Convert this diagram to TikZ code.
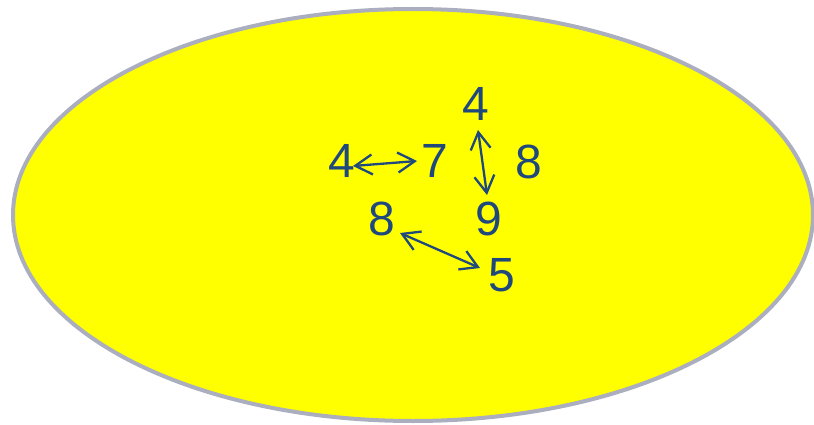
\documentclass[tikz,border=0pt]{standalone}
\usepackage{fontspec}
\setmainfont{Liberation Sans}
\usetikzlibrary{arrows.meta,calc}
\definecolor{fillyel}{RGB}{255,255,0}
\definecolor{rimgray}{RGB}{170,174,190}
\definecolor{numblue}{RGB}{31,73,125}
\begin{document}
\begin{tikzpicture}[x=1pt,y=-1pt,
  num/.style={text=numblue,inner sep=0pt,font=\fontsize{48}{50}\selectfont},
  arr/.style={draw=numblue,line width=2.3pt,{Straight Barb[length=17pt,width=20pt]}-{Straight Barb[length=17pt,width=20pt]}}]
\useasboundingbox (0,0) rectangle (814,425);
\draw[fill=fillyel,draw=rimgray,line width=4pt] (413,215) ellipse [x radius=400,y radius=206];
\node[num] (t4) at (476,104) {4};
\node[num] (l4) at (342,161) {4};
\node[num] (s7) at (435,161) {7};
\node[num] (r8) at (529,162) {8};
\node[num] (l8) at (382,219) {8};
\node[num] (n9) at (489,219) {9};
\node[num] (f5) at (502,275) {5};
\draw[arr] ($(l4)+(11,5)$) -- ($(s7)+(-18,0)$);
\draw[arr] ($(t4)+(2,26)$) -- ($(n9)+(-2,-24)$);
\draw[arr] ($(l8)+(18,14)$) -- ($(f5)+(-22,-7)$);
\end{tikzpicture}
\end{document}
